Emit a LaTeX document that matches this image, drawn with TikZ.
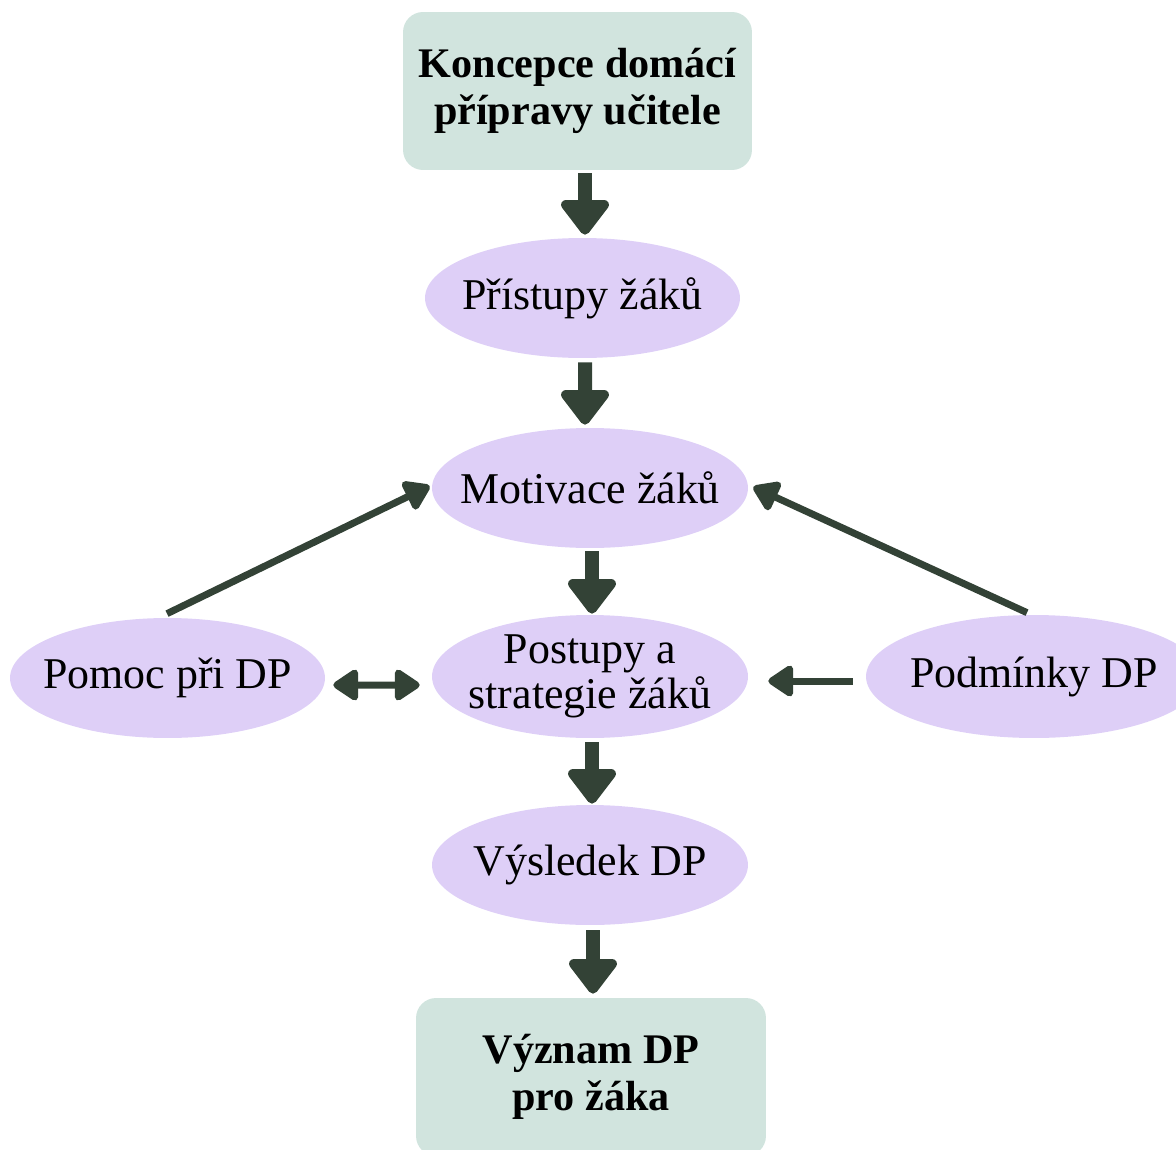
\documentclass[tikz,border=0pt]{standalone}
\usepackage{fontspec}
\setmainfont{Liberation Serif}
\usetikzlibrary{shapes.geometric,arrows.meta}
\definecolor{boxfill}{HTML}{D1E4DE}
\definecolor{ellfill}{HTML}{DECFF7}
\definecolor{arr}{HTML}{334236}
\begin{document}
\begin{tikzpicture}[x=0.02cm,y=-0.02cm,
  box/.style={rectangle, rounded corners=0.4cm, fill=boxfill, minimum width=7cm, minimum height=3.16cm, inner sep=0pt, align=center, font=\fontsize{24}{27}\selectfont\bfseries},
  oval/.style={ellipse, fill=ellfill, minimum width=6.32cm, minimum height=2.4cm, inner xsep=-3cm, inner ysep=-2cm, align=center, font=\fontsize{25}{26}\selectfont},
  bigarrow/.style={draw=arr, line width=0.28cm, -{Triangle[width=1.1cm,length=0.76cm,round]}},
  thinarrow/.style={draw=arr, line width=0.14cm, -{Triangle[width=0.7cm,length=0.56cm,round]}},
  dblarrow/.style={draw=arr, line width=0.14cm, {Triangle[width=0.7cm,length=0.56cm,round]}-{Triangle[width=0.7cm,length=0.56cm,round]}}
]
\useasboundingbox (0,0) rectangle (1176,1149);

\node[box, minimum width=6.98cm] (top) at (577.5,91) {Koncepce domácí\\přípravy učitele};
\node[box] (bot) at (591,1077) {Význam DP\\pro žáka};

\node[oval, minimum width=6.3cm] (pr) at (582.5,298) {Přístupy žáků};
\node[oval] (mot) at (590,488) {Motivace žáků};
\node[oval, minimum height=2.46cm] (post) at (590,676.5) {Postupy a\\strategie žáků};
\node[oval] (vys) at (590,865) {Výsledek DP};
\node[oval, minimum width=6.3cm] (pomoc) at (167.5,678) {Pomoc při DP};
\node[oval, minimum width=6.72cm, minimum height=2.46cm] (pod) at (1034,676.5) {Podmínky DP};

\draw[bigarrow] ([shift={(7.5,3)}]top.south) -- ([shift={(2.5,-3)}]pr.north);
\draw[bigarrow] ([shift={(2.5,4)}]pr.south) -- ([shift={(-5,-3)}]mot.north);
\draw[bigarrow] ([shift={(2,3)}]mot.south) -- ([shift={(2,-1)}]post.north);
\draw[bigarrow] ([shift={(2,4)}]post.south) -- ([shift={(2,-1)}]vys.north);
\draw[bigarrow] ([shift={(3,5)}]vys.south) -- ([shift={(2,-4)}]bot.north);

\draw[thinarrow] ([shift={(-0.5,-4)}]pomoc.north) -- ([shift={(-2,-2)}]mot.west);
\draw[thinarrow] ([shift={(-7,-2)}]pod.north) -- ([shift={(5,-1)}]mot.east);
\draw[thinarrow] ([shift={(-13,4.5)}]pod.west) -- ([shift={(20,4.5)}]post.east);
\draw[dblarrow] ([shift={(8,7)}]pomoc.east) -- ([shift={(-12,8.5)}]post.west);
\end{tikzpicture}
\end{document}
